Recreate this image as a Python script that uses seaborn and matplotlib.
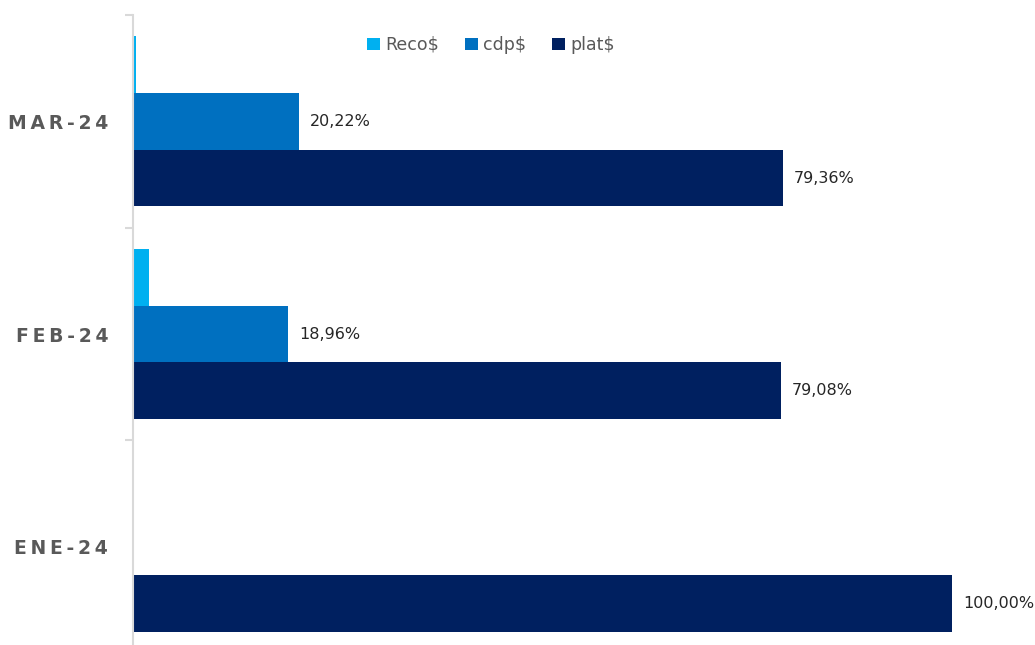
import matplotlib
matplotlib.use("Agg")
import matplotlib.pyplot as plt
import seaborn as sns
import pandas as pd

categories = ["MAR-24", "FEB-24", "ENE-24"]
series = ["Reco$", "cdp$", "plat$"]
reco = [0.42, 1.96, 0.0]
cdp = [20.22, 18.96, 0.0]
plat = [79.36, 79.08, 100.0]
colors = ["#00B0F0", "#0070C0", "#002060"]

rows = []
for i, c in enumerate(categories):
    for s, vals in zip(series, [reco, cdp, plat]):
        rows.append({"mes": c, "serie": s, "valor": vals[i]})
df = pd.DataFrame(rows)

sns.set_style("white")
plt.rcParams["font.family"] = ["DejaVu Sans"]

fig = plt.figure(figsize=(10.35, 6.45), dpi=100)
ax = fig.add_axes([133/1035, 1 - 653/645, 901/1035, (653 - 15)/645])

sns.barplot(data=df, y="mes", x="valor", hue="serie", order=categories,
            hue_order=series, palette=colors, orient="h", width=0.8,
            saturation=1, linewidth=0, ax=ax, legend=True)

for s_idx, cont in enumerate(ax.containers):
    if series[s_idx] == "Reco$":
        continue
    labels = [("%.2f%%" % v).replace(".", ",") if v > 0 else "" for v in cont.datavalues]
    ax.bar_label(cont, labels=labels, padding=8, fontsize=11.5, color="#262626")

ax.set_xlim(0, 110)
ax.set_ylim(2.5, -0.5)
ax.set_xlabel("")
ax.set_ylabel("")
ax.set_xticks([])
for sp in ["top", "right", "bottom"]:
    ax.spines[sp].set_visible(False)
ax.spines["left"].set_color("#d9d9d9")
ax.spines["left"].set_linewidth(1.5)

spaced = ["\u2009".join(list(c)) for c in categories]
ax.set_yticks(range(len(categories)))
ax.set_yticklabels(spaced, fontsize=13.5, fontweight="bold", color="#595959")
ax.tick_params(axis="y", which="major", left=False, length=0, pad=18)
ax.set_yticks([-0.5, 0.5, 1.5, 2.5], minor=True)
ax.tick_params(axis="y", which="minor", left=True, length=6, width=1.5,
               color="#d9d9d9")

handles, labs = ax.get_legend_handles_labels()
ax.legend(handles, labs, loc="center", bbox_to_anchor=(491/1035, 1 - 45/645),
          bbox_transform=fig.transFigure, ncol=3, frameon=False,
          fontsize=12.5, handlelength=0.75, handleheight=0.75, handletextpad=0.3,
          columnspacing=1.5, labelcolor="#595959")

fig.savefig("out.png", dpi=100)
